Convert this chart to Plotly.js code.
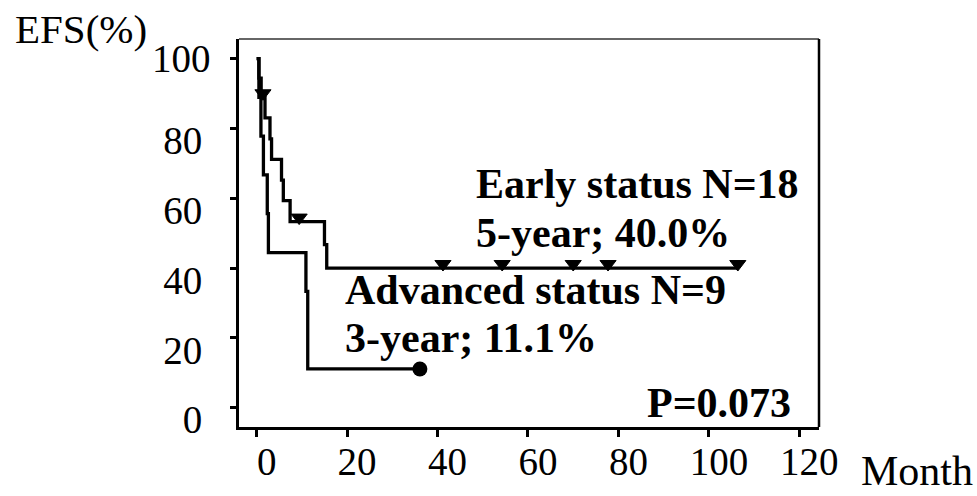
<!DOCTYPE html>
<html>
<head>
<meta charset="utf-8">
<script src="https://cdn.plot.ly/plotly-3.0.1.min.js"></script>
<style>
  html, body { margin: 0; padding: 0; background: #fff; }
  #chart { width: 977px; height: 496px; }
</style>
</head>
<body>
<div id="chart"></div>
<script>
// Kaplan-Meier event-free survival, months from start
// Early status group (N=18): step times and survival after each step
const earlyTime = [0, 0.5, 1.0, 1.85, 2.95, 3.3, 5.5, 5.9, 7.4, 15.0, 15.5, 106.6];
const earlySurv = [100, 94.4, 88.9, 83.0, 77.0, 71.1, 65.2, 59.3, 53.3, 46.7, 40.0, 40.0];
// Early status censored cases
const earlyCensorTime = [1.4, 9.4, 41.2, 54.3, 70.0, 77.7, 106.4];
const earlyCensorSurv = [88.9, 53.3, 40.0, 40.0, 40.0, 40.0, 40.0];

// Advanced status group (N=9)
const advTime = [0, 0.5, 0.95, 1.5, 2.35, 2.6, 10.9, 11.3, 11.3, 36.1];
const advSurv = [100, 88.9, 77.8, 66.7, 55.6, 44.4, 33.3, 22.2, 11.1, 11.1];
// Last follow-up of the advanced group
const advEndTime = [36.1];
const advEndSurv = [11.1];

const xTicks = [0, 20, 40, 60, 80, 100, 120];
const yTicks = [0, 20, 40, 60, 80, 100];
const yTopTick = 100; // top label sits level with its tick

const labels = {
  yTitle: 'EFS(%)',
  xTitle: 'Month',
  early1: 'Early status N=18',
  early2: '5-year; 40.0%',
  adv1: 'Advanced status N=9',
  adv2: '3-year; 11.1%',
  pval: 'P=0.073'
};

// plot area in pixels
const L = 239, R = 819, T = 39, B = 427;
const W = R - L, H = B - T;
const fx = x => (x - L) / W;
const fy = y => (B - y) / H;

const serif = 'Liberation Serif, Times New Roman, serif';
const yRange = [-5.53, 105.6];
const markLift = 1.15; // censor triangles sit just above the curve

const traces = [
  {
    x: earlyTime, y: earlySurv, type: 'scatter', mode: 'lines',
    line: { shape: 'hv', color: '#000', width: 3.3 },
    hoverinfo: 'skip'
  },
  {
    x: advTime, y: advSurv, type: 'scatter', mode: 'lines',
    line: { shape: 'hv', color: '#000', width: 3.3 },
    hoverinfo: 'skip'
  },
  {
    x: earlyCensorTime, y: earlyCensorSurv, type: 'scatter', mode: 'markers',
    yaxis: 'y2',
    marker: { symbol: 'triangle-down', size: 14, color: '#000',
              line: { color: '#000', width: 1 } },
    hoverinfo: 'skip'
  },
  {
    x: advEndTime, y: advEndSurv, type: 'scatter', mode: 'markers',
    marker: { symbol: 'circle', size: 15, color: '#000' },
    hoverinfo: 'skip'
  }
];

const textAnn = (text, x, y, size, bold, xanchor, yanchor) => ({
  xref: 'paper', yref: 'paper', x: fx(x), y: fy(y),
  xanchor: xanchor || 'left', yanchor: yanchor || 'middle',
  text: text, showarrow: false,
  font: { family: serif, size: size, color: '#000', weight: bold ? 'bold' : 'normal' }
});

const layout = {
  width: 977, height: 496,
  margin: { l: L, r: 977 - R, t: T, b: 496 - B, pad: 0 },
  paper_bgcolor: '#fff', plot_bgcolor: '#fff',
  showlegend: false,
  xaxis: {
    range: [-3.9, 124.35], tickvals: xTicks, ticktext: xTicks.map(String),
    showgrid: false, zeroline: false,
    showline: true, linecolor: '#000', linewidth: 3,
    ticks: 'outside', ticklen: 7, tickwidth: 3, tickcolor: '#000',
    ticklabelshift: 10, ticklabelstandoff: -9,
    tickfont: { family: serif, size: 39, color: '#000' },
    fixedrange: true
  },
  yaxis: {
    range: yRange, tickvals: yTicks,
    ticktext: yTicks.map(v => (v === yTopTick ? '' : String(v))),
    showgrid: false, zeroline: false,
    showline: true, linecolor: '#000', linewidth: 3,
    ticks: 'outside', ticklen: 6, tickwidth: 3, tickcolor: '#000',
    ticklabelshift: 12, ticklabelstandoff: 20,
    tickfont: { family: serif, size: 39, color: '#000' },
    fixedrange: true
  },
  yaxis2: {
    overlaying: 'y', visible: false,
    range: [yRange[0] - markLift, yRange[1] - markLift],
    fixedrange: true
  },
  shapes: [
    { type: 'line', xref: 'paper', yref: 'paper', x0: 0, x1: 1, y0: 1, y1: 1,
      line: { color: '#333', width: 1.5 } },
    { type: 'line', xref: 'paper', yref: 'paper', x0: 1, x1: 1, y0: 0, y1: 1,
      line: { color: '#000', width: 2.5 } }
  ],
  annotations: [
    {
      xref: 'paper', yref: 'y', x: fx(213), y: yTopTick,
      xanchor: 'right', yanchor: 'middle', showarrow: false,
      text: String(yTopTick),
      font: { family: serif, size: 39, color: '#000' }
    },
    textAnn(labels.yTitle, 13, 29, 41, false),
    textAnn(labels.xTitle, 859, 496, 42, false, 'left', 'bottom'),
    textAnn(labels.early1, 474, 184, 42, true),
    textAnn(labels.early2, 474, 233, 42, true),
    textAnn(labels.adv1, 343, 290, 42, true),
    textAnn(labels.adv2, 343, 338, 42, true),
    textAnn(labels.pval, 793, 403, 42, true, 'right')
  ]
};

Plotly.newPlot('chart', traces, layout, { displayModeBar: false, staticPlot: true });
</script>
</body>
</html>
